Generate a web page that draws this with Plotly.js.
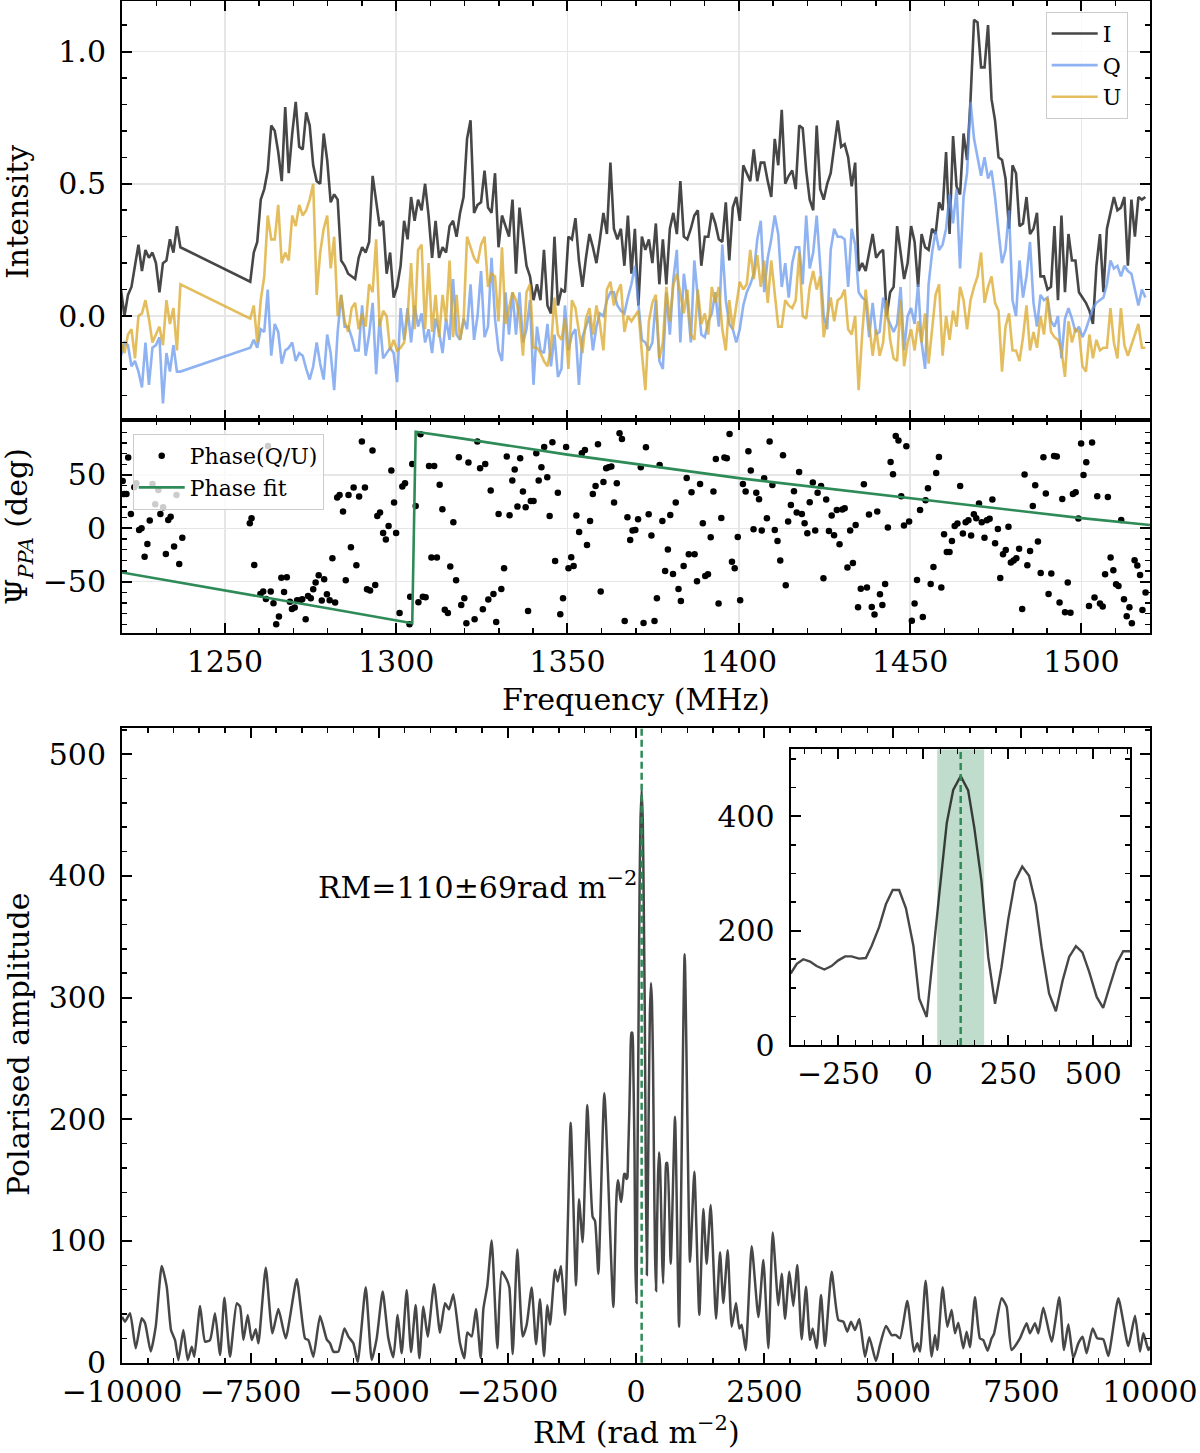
<!DOCTYPE html>
<html>
<head>
<meta charset="utf-8">
<script src="https://cdn.plot.ly/plotly-3.0.1.min.js"></script>
<style>
  body { margin: 0; background: #fff; }
  #plot { width: 1200px; height: 1453px; }
</style>
</head>
<body>
<div id="plot"></div>
<script>
// Frequency channels: two blocks with a gap between them
var chanStartA = 1219.7, chanStartB = 1257.43, chanStep = 1.0204;

// Stokes I, Q, U per channel (block A then block B)
var iSegA = [0.10,0.00,0.08,0.11,0.19,0.27,0.17,0.25,0.22,0.24,0.20,0.09,0.20,0.21,0.29,0.24,0.34,0.26];
var iSegB = [
  0.13,0.24,0.28,0.44,0.48,0.55,0.72,0.70,0.62,0.51,
  0.79,0.54,0.69,0.81,0.64,0.63,0.77,0.72,0.57,0.51,
  0.50,0.69,0.59,0.43,0.46,0.44,0.21,0.19,0.16,0.15,
  0.14,0.22,0.26,0.24,0.28,0.53,0.43,0.34,0.36,0.16,
  0.24,0.07,0.11,0.19,0.36,0.29,0.45,0.36,0.44,0.40,
  0.50,0.38,0.22,0.36,0.22,0.26,0.24,0.34,0.36,0.30,
  0.39,0.45,0.67,0.74,
  0.39,0.42,0.43,0.55,0.41,0.39,0.54,0.26,0.38,0.34,
  0.30,0.44,0.16,0.41,0.29,0.19,0.15,0.06,0.12,0.06,
  0.25,0.04,0.01,0.30,0.04,0.10,0.09,0.30,0.29,0.37,
  0.21,0.11,0.22,0.31,0.26,0.20,0.29,0.39,0.31,0.58,
  0.33,0.29,0.33,0.19,0.38,0.16,0.33,0.04,0.30,0.25,
  0.29,0.20,0.35,0.12,0.29,0.12,0.33,0.39,0.31,0.51,
  0.30,0.29,0.33,0.38,0.40,0.19,0.30,0.30,0.39,0.35,
  0.29,0.28,0.43,0.21,0.41,0.45,0.36,0.57,0.54,0.51,
  0.63,0.51,0.58,0.58,0.51,0.45,0.67,0.57,0.78,0.50,
  0.53,0.55,0.48,0.72,0.71,0.55,0.44,0.40,0.72,0.48,
  0.44,0.50,0.54,0.65,0.74,0.64,0.65,0.60,0.49,0.58,
  0.17,0.20,0.17,0.24,0.31,0.22,0.24,0.25,0.00,0.09,
  0.11,0.34,0.24,0.14,0.20,0.34,0.28,0.11,0.31,0.26,
  0.25,0.33,0.31,0.43,0.40,0.62,0.31,0.68,0.49,0.46,
  0.69,0.59,0.82,1.12,1.11,0.94,0.94,1.10,0.82,0.74,
  0.60,0.59,0.52,0.33,0.57,0.54,0.34,0.35,0.45,0.31,
  0.33,0.39,0.15,0.15,0.10,0.11,0.34,0.06,0.38,0.09,
  0.31,0.21,0.21,0.09,0.07,0.05,0.02,-0.03,0.19,0.31,
  0.09,0.33,0.39,0.45,0.40,0.41,0.45,0.19,0.44,0.30,
  0.45,0.44,0.45
];
var qSegA = [-0.15,-0.10,-0.11,-0.19,-0.17,-0.21,-0.27,-0.10,-0.26,-0.12,-0.11,-0.08,-0.33,-0.14,-0.21,-0.11,-0.21,-0.21];
var qSegB = [
  -0.12,-0.09,-0.12,-0.05,-0.06,0.10,-0.15,-0.03,-0.06,-0.18,
  -0.13,-0.12,-0.10,-0.17,-0.14,-0.15,-0.20,-0.24,-0.19,-0.10,
  -0.18,-0.24,-0.07,-0.14,-0.28,-0.06,0.08,-0.04,-0.04,-0.08,
  -0.13,-0.13,0.04,-0.15,-0.07,0.05,-0.22,-0.01,-0.16,-0.14,
  -0.12,-0.14,-0.25,0.03,-0.09,0.03,-0.10,0.04,-0.04,0.01,
  -0.10,-0.05,-0.14,-0.01,-0.06,-0.14,-0.01,-0.09,0.14,-0.07,
  -0.09,-0.01,-0.05,0.12,
  -0.09,0.00,0.17,-0.08,-0.04,0.22,-0.01,-0.13,-0.17,0.09,
  -0.07,0.09,-0.07,0.09,-0.10,-0.05,0.06,-0.26,-0.04,-0.13,
  -0.14,-0.03,-0.19,-0.07,-0.23,-0.20,0.04,-0.13,-0.07,-0.05,
  -0.26,-0.08,-0.04,0.00,-0.13,-0.04,0.01,0.00,0.06,0.09,
  0.09,0.04,0.02,0.01,0.07,0.12,0.19,0.06,-0.09,-0.10,
  -0.13,-0.10,0.06,-0.17,-0.20,0.09,-0.07,0.14,0.25,-0.10,
  0.16,0.06,-0.10,0.21,0.06,-0.07,-0.08,-0.02,0.01,0.09,
  -0.04,0.27,0.06,-0.03,-0.05,-0.10,-0.05,0.04,0.09,0.12,
  0.16,0.29,0.36,0.09,0.22,0.29,0.38,0.31,0.11,0.20,
  0.07,0.20,0.26,0.26,0.12,0.38,0.18,0.24,0.38,0.19,
  0.00,-0.05,0.25,0.33,0.30,0.30,0.29,0.11,0.33,0.27,
  0.09,0.07,0.06,-0.08,0.05,-0.07,-0.06,0.07,0.00,-0.03,
  -0.06,-0.03,0.11,-0.13,0.00,0.03,-0.03,0.12,-0.10,-0.20,
  0.12,0.24,0.32,0.25,0.27,0.33,0.46,0.35,0.48,0.18,
  0.45,0.54,0.81,0.67,0.60,0.53,0.60,0.52,0.55,0.45,
  0.32,0.20,0.25,0.40,0.06,0.00,0.21,0.07,0.15,0.28,
  0.05,-0.04,0.08,0.06,0.07,-0.02,-0.04,0.00,-0.16,-0.01,
  0.03,-0.01,-0.06,-0.04,-0.08,-0.05,-0.01,0.03,0.05,0.06,
  0.07,0.12,0.21,0.18,0.19,0.15,0.19,0.17,0.16,0.10,
  0.04,0.10,0.07
];
var uSegA = [-0.10,-0.14,-0.07,-0.05,-0.16,0.00,0.01,0.06,-0.01,-0.10,-0.07,-0.04,-0.11,0.06,-0.03,0.03,-0.13,0.12];
var uSegB = [
  -0.01,0.04,-0.10,0.06,0.15,0.38,0.29,0.29,0.42,0.20,
  0.24,0.21,0.38,0.34,0.42,0.38,0.40,0.44,0.50,0.08,
  0.24,0.33,0.38,0.18,0.30,0.00,0.08,-0.02,-0.06,0.03,
  0.05,-0.05,0.01,-0.04,0.12,0.09,0.29,-0.04,0.02,0.00,
  -0.13,-0.09,-0.13,-0.12,-0.10,0.00,0.20,-0.05,0.25,0.27,
  -0.05,0.20,-0.06,0.08,-0.08,0.08,-0.02,0.21,-0.08,0.08,
  -0.09,-0.02,0.30,0.26,
  0.22,0.20,0.27,0.30,0.11,0.16,0.15,-0.02,0.26,-0.03,
  0.03,0.09,0.06,0.00,-0.15,0.09,0.12,-0.12,-0.12,-0.14,
  -0.17,-0.19,-0.12,0.07,-0.07,-0.09,-0.01,-0.20,0.06,0.03,
  -0.06,-0.14,-0.01,0.03,-0.07,0.04,-0.03,-0.13,0.10,0.13,
  0.04,0.09,0.12,-0.06,0.00,-0.02,0.00,0.02,-0.14,-0.28,
  -0.02,0.05,0.08,-0.16,-0.10,0.11,-0.02,0.12,0.16,0.09,
  0.01,0.10,-0.07,-0.09,0.10,-0.03,0.01,-0.07,0.11,0.05,
  0.11,-0.05,-0.13,0.06,-0.05,0.04,0.13,0.10,0.12,0.25,
  0.14,0.23,0.11,0.21,0.05,0.21,0.09,-0.04,-0.04,0.06,
  0.04,0.03,0.06,0.24,0.00,-0.01,0.11,0.17,0.10,0.15,
  -0.08,0.00,0.07,-0.02,0.06,0.07,0.10,-0.05,-0.07,0.00,
  -0.28,-0.07,0.10,-0.03,-0.15,-0.05,-0.15,-0.10,0.06,-0.09,
  -0.16,-0.17,0.06,-0.19,-0.10,-0.05,-0.13,-0.02,-0.10,0.01,
  -0.18,-0.05,0.08,0.12,-0.15,0.00,-0.09,0.02,-0.04,0.11,
  0.06,-0.05,0.06,0.11,0.15,0.24,0.05,0.11,0.15,0.05,
  0.02,-0.21,-0.04,0.01,-0.13,-0.13,-0.17,-0.08,0.04,-0.13,
  -0.06,-0.12,0.00,-0.07,0.07,-0.06,-0.08,-0.09,-0.13,-0.23,
  -0.02,-0.10,-0.05,-0.06,-0.19,-0.21,-0.07,-0.16,-0.09,-0.13,
  -0.12,-0.12,0.03,-0.10,-0.16,0.03,-0.11,-0.15,-0.11,-0.07,
  -0.03,-0.12,-0.12
];

// Polarisation angle per channel (MHz, deg)
var phaseFreq = [
  1220.2,1220.6,1221.3,1221.8,1222.6,1223.6,1224.2,1225.0,1225.7,1226.6,
  1227.4,1228.1,1228.9,1229.7,1230.6,1231.2,1232.0,1232.8,1233.5,1234.2,
  1235.2,1235.9,1236.7,1237.6,1257.3,1257.8,1258.6,1260.4,1261.2,1262.0,
  1262.6,1263.4,1264.2,1265.0,1265.8,1266.5,1267.3,1268.1,1269.0,1269.6,
  1270.4,1271.1,1271.9,1272.6,1273.6,1274.3,1275.1,1275.8,1276.5,1277.4,
  1278.3,1279.0,1279.8,1280.6,1281.4,1282.2,1282.8,1283.5,1284.5,1285.3,
  1286.1,1286.8,1287.6,1288.4,1289.2,1290.0,1290.9,1291.5,1292.4,1293.1,
  1293.9,1294.5,1295.3,1296.2,1297.0,1297.8,1298.6,1299.4,1300.0,1301.0,
  1301.8,1302.6,1303.9,1304.1,1304.7,1305.7,1306.5,1307.1,1307.8,1308.6,
  1309.6,1310.3,1311.1,1311.9,1312.7,1313.5,1314.2,1315.1,1315.8,1316.7,
  1317.5,1318.3,1319.0,1319.9,1320.5,1321.1,1322.9,1323.7,1324.5,1325.3,
  1326.0,1326.9,1327.6,1328.4,1329.2,1329.9,1330.7,1331.5,1332.3,1333.1,
  1333.9,1334.6,1335.4,1336.2,1337.0,1337.8,1338.5,1339.3,1340.1,1340.9,
  1341.6,1342.4,1343.2,1344.1,1344.8,1345.6,1346.4,1347.2,1347.9,1348.7,
  1349.6,1350.3,1351.1,1351.8,1352.6,1353.4,1354.2,1355.1,1355.7,1356.6,
  1357.4,1358.2,1358.9,1359.7,1360.5,1361.3,1362.0,1362.8,1363.6,1364.4,
  1365.2,1365.9,1366.7,1367.5,1368.3,1369.0,1369.8,1370.6,1371.4,1372.2,
  1372.9,1373.7,1374.5,1375.4,1376.1,1376.9,1377.7,1378.5,1379.3,1380.0,
  1380.8,1381.6,1382.4,1383.1,1383.9,1384.8,1385.4,1386.2,1387.1,1387.8,
  1388.7,1389.5,1390.2,1391.0,1391.8,1392.6,1393.3,1394.1,1394.9,1395.8,
  1396.5,1397.3,1398.0,1398.8,1399.7,1400.4,1401.2,1402.0,1402.8,1403.5,
  1404.3,1405.1,1405.9,1406.7,1407.4,1408.2,1409.0,1409.8,1410.5,1411.3,
  1412.1,1412.9,1413.7,1414.4,1415.2,1416.1,1416.9,1417.6,1418.4,1419.2,
  1420.0,1420.7,1421.6,1422.3,1423.0,1424.0,1424.7,1425.5,1426.3,1427.1,
  1427.8,1428.6,1429.4,1430.2,1430.9,1431.7,1432.5,1433.3,1434.1,1434.8,
  1435.6,1436.5,1437.4,1438.0,1438.8,1439.6,1440.4,1441.2,1441.9,1442.7,
  1443.5,1444.3,1445.0,1445.8,1446.6,1447.4,1448.2,1448.9,1449.7,1450.5,
  1451.3,1452.0,1452.9,1453.7,1454.5,1455.2,1456.0,1456.8,1457.6,1458.4,
  1459.1,1459.9,1460.7,1461.5,1462.2,1463.0,1463.8,1464.6,1465.4,1466.2,
  1467.0,1467.8,1468.6,1469.3,1470.1,1470.9,1471.7,1472.4,1473.2,1474.0,
  1474.8,1475.6,1476.3,1477.1,1477.9,1478.7,1479.4,1480.2,1481.0,1481.8,
  1482.7,1483.4,1484.2,1485.0,1485.8,1486.5,1487.3,1488.1,1488.9,1489.6,
  1490.4,1491.2,1492.0,1492.8,1493.6,1494.4,1495.2,1496.0,1496.8,1497.5,
  1498.3,1499.1,1499.9,1500.6,1501.4,1502.2,1503.1,1503.8,1504.6,1505.4,
  1506.2,1506.9,1507.7,1508.5,1509.3,1510.1,1510.8,1511.6,1512.4,1513.2,
  1514.0,1514.7,1515.5,1516.3,1517.1,1517.8,1518.7
];
var phaseDeg = [
  44.4,32.2,32.2,66.3,13.4,38.4,42.2,-1.6,0.0,-26.6,
  -14.7,7.2,41.6,22.5,35.9,13.4,19.7,-24.1,7.8,10.9,
  -17.2,31.3,-33.4,-8.8,4.7,9.4,-34.4,-61.6,-59.4,-66.3,
  77.2,-59.4,-70.3,-90.0,-82.8,-46.3,-59.7,-45.9,-68.8,-75.6,
  -74.4,-67.5,-67.8,-66.6,-85.3,-63.4,-65.6,-57.2,-50.9,-44.1,
  -67.8,-47.8,-61.9,-67.5,-28.1,-69.7,28.8,31.3,15.6,-48.8,
  31.3,-17.8,38.1,-34.7,29.7,81.3,38.1,-57.2,-58.4,72.8,
  -53.1,11.6,14.7,-4.4,-10.6,2.2,54.1,24.1,-4.4,-79.4,
  39.1,42.2,-90.0,-64.1,60.3,20.9,-69.4,88.1,-64.1,-64.7,
  58.4,-27.5,58.4,-27.5,40.9,17.8,-76.3,-79.4,-35.9,5.6,
  -48.8,66.6,-71.9,-65.6,-89.1,61.6,-85.3,81.3,56.3,-75.9,
  60.3,-66.9,35.3,-61.6,-87.8,13.4,-56.9,-37.5,67.2,12.2,
  44.7,55.0,20.3,65.6,34.4,19.7,-77.5,25.6,25.6,70.3,
  44.7,57.2,76.3,47.8,11.6,80.6,-30.6,33.4,-80.6,-65.6,
  76.3,-37.5,-27.2,-35.3,11.9,-3.4,70.3,73.4,-15.6,6.9,
  32.2,39.7,78.8,-59.4,43.4,56.3,57.2,57.8,24.1,42.2,
  89.1,83.8,-86.9,10.3,-10.9,-2.2,-1.6,8.4,57.2,-88.8,
  75.9,13.1,-6.9,-86.9,-65.6,59.4,6.9,-40.0,-20.0,12.5,
  -42.8,24.1,-56.9,-68.1,-35.3,47.2,-24.4,33.8,-24.4,-49.7,
  41.6,4.7,-44.7,-43.1,-8.4,34.4,65.0,-70.6,9.7,66.3,
  65.6,88.4,-31.3,-37.5,-8.1,-67.5,41.6,34.4,72.2,54.1,
  -0.9,33.4,27.2,-2.2,46.9,9.4,81.3,40.6,-1.6,-11.9,
  -30.3,68.4,-53.4,6.3,21.9,34.7,14.7,52.8,13.4,4.7,
  -4.7,24.4,42.8,-2.2,33.4,39.7,-46.9,26.9,-2.5,11.9,
  -6.6,17.2,-15.0,17.5,18.8,-36.9,-2.2,-32.5,3.1,-74.1,
  -56.6,41.3,-55.6,12.8,-73.8,-80.9,15.6,-61.9,-71.9,-52.2,
  0.6,62.2,50.6,86.6,82.2,30.0,2.5,76.9,6.3,-86.6,
  -70.6,-48.4,17.2,-83.1,26.3,37.5,-52.2,-36.3,51.9,66.9,
  -55.6,-5.6,-22.2,-22.2,-11.9,2.2,4.4,39.7,-5.0,5.6,
  7.5,-6.9,13.1,9.4,23.1,5.6,-8.8,7.5,8.8,26.9,
  -14.1,-0.6,-46.6,-24.4,-20.3,1.3,-32.2,-30.3,-28.1,-19.1,
  -75.6,50.3,-34.7,-21.3,20.9,40.3,-12.5,-41.9,66.6,32.5,
  -61.6,-42.5,67.8,67.2,-69.7,27.5,-78.8,-50.9,-79.1,32.2,
  33.8,9.1,79.4,50.0,61.9,-72.8,80.3,-65.0,30.0,-70.6,
  -73.4,-43.1,29.4,-27.5,-39.4,-52.5,-54.1,7.8,-66.6,-82.5,
  -74.1,-89.1,-30.0,-35.0,-43.8,-76.6,-60.3
];

// Fitted PA curve (wraps at +/-90)
var fitFreq = [1220, 1250, 1280, 1304.7, 1305.7, 1318.5, 1350, 1400, 1450, 1500, 1520];
var fitDeg  = [-41.5, -58, -75, -89, 90.5, 84.5, 69, 47, 28, 9.5, 3];

// RM synthesis: polarised amplitude vs RM (rad m^-2)
var rmLeft = [-10000,-9941,-9844,-9734,-9617,-9552,-9442,-9345,-9228,-9131,
  -9047,-8969,-8904,-8807,-8722,-8644,-8593,-8482,-8385,-8288,
  -8191,-8093,-8009,-7899,-7769,-7704,-7639,-7555,-7477,-7399,
  -7347,-7204,-7075,-6958,-6815,-6601,-6440,-6375,-6277,-6148,
  -6018,-5953,-5888,-5791,-5674,-5596,-5499,-5415,-5259,-5142,
  -5045,-4929,-4819,-4721,-4637,-4559,-4462,-4377,-4287,-4215,
  -4137,-4053,-3930,-3813,-3716,-3638,-3554,-3424,-3340,-3282,
  -3197,-3113,-3022,-2970,-2892,-2808,-2698,-2613,-2516,-2464,
  -2399,-2309,-2205,-2127,-2030,-1945,-1868,-1790,-1725,-1673,
  -1576,-1524,-1459,-1381,-1271,-1167,-1109,-1037,-947,-843,
  -798,-733,-616,-441];
var ampLeft = [37.8,33.7,40.6,11.8,36.5,32.4,9.1,29.6,79.5,62.5,
  26.9,18.6,2.2,26.9,2.2,13.1,4.9,46.6,17.3,18.6,
  40.6,6.3,53.4,4.9,48.8,46.1,18.6,39.2,18.6,27.4,
  15.9,78.1,24.1,44.1,20.0,68.5,20.0,18.6,4.9,38.4,
  19.2,15.9,9.1,9.1,28.2,21.4,15.9,0.5,61.9,2.2,
  20.0,58.4,20.0,4.4,39.2,7.7,59.7,8.8,47.4,3.6,
  46.1,21.4,64.4,24.7,48.8,43.9,56.2,15.9,3.6,24.8,
  21.5,44.1,3.9,44.1,63.4,100.5,11.9,74.7,68.3,61.8,
  7.1,93.1,21.5,31.2,61.8,15.1,52.2,5.4,47.3,31.2,
  76.3,66.6,79.5,39.3,197.2,63.4,134.3,98.9,211.7,119.8,
  116.6,73.1,221.4,45.7];
var rmCore = [-390,-372,-353,-333,-314,-291,-270,-250,-230,-211,
  -189,-169,-152,-130,-110,-90,-71,-51,-29,-12,
  10,27,47,69,88,110,132,150,171,191,
  211,230,250,270,291,311,331,348,370,390,
  410,429,449,468,488,510,529,549,570,588,608];
var ampCore = [125,142,150,146,138,132,138,148,155,155,
  151,152,173,206,246,271,271,239,173,81,
  49,154,264,388,446,470,445,380,287,154,
  72,136,220,287,312,296,246,171,90,59,
  113,154,173,162,128,84,65,104,144,164,164];
var rmRight = [675,759,837,947,1051,1135,1232,1310,1375,1453,
  1557,1635,1699,1784,1862,1946,2011,2056,2134,2251,
  2381,2478,2576,2660,2770,2835,2900,2984,3061,3139,
  3223,3308,3386,3438,3515,3600,3677,3807,3937,4034,
  4112,4183,4261,4345,4455,4539,4669,4747,4864,4974,
  5058,5136,5279,5408,5473,5525,5635,5752,5817,5862,
  5966,6057,6141,6206,6271,6368,6433,6498,6595,6692,
  6757,6842,6919,6965,7114,7211,7308,7470,7600,7665,
  7763,7828,7925,8087,8236,8327,8412,8509,8606,8690,
  8768,8885,8976,9093,9190,9385,9579,9709,9807,9872,
  9969,10000];
var ampRight = [81.2,202.0,29.6,335.7,82.7,156.9,39.3,126.3,81.2,129.5,
  36.1,90.8,49.0,92.4,29.6,49.0,28.0,31.2,10.3,95.6,
  37.6,84.4,11.9,107.0,47.3,73.1,36.1,74.7,46.6,80.3,
  19.2,62.5,18.6,28.2,11.8,55.6,13.7,74.8,35.1,33.7,
  25.5,33.7,26.9,35.9,4.9,20.9,1.4,14.5,30.1,22.7,
  22.7,20.0,50.7,9.1,15.9,9.1,67.4,4.9,22.7,10.4,
  61.9,29.6,43.3,24.1,32.9,11.8,25.5,12.7,53.7,20.0,
  18.6,9.9,20.0,23.6,52.9,46.1,10.4,20.0,32.4,24.1,
  32.4,24.1,45.2,17.3,53.7,10.4,31.5,3.6,15.9,21.4,
  7.7,28.2,20.0,19.2,5.5,52.9,13.7,38.6,9.1,24.1,
  10.4,13.1];

var rmBest = 110, rmErr = 69;

// tick labels of the RM axis
var rmTicks = [-10000, -7500, -5000, -2500, 0, 2500, 5000, 7500, 10000];
var rmTickText = ["\u221210000", "\u22127500", "\u22125000", "\u22122500", "0", "2500", "5000", "7500", "10000"];

// build series
function chan(start, n) {
  var out = [];
  for (var k = 0; k < n; k++) out.push(start + k * chanStep);
  return out;
}
var freq = chan(chanStartA, iSegA.length).concat(chan(chanStartB, iSegB.length));
var rmAll = rmLeft.concat(rmCore, rmRight);
var ampAll = ampLeft.concat(ampCore, ampRight);

var green = "#2e8b57";
var font = "DejaVu Serif, Liberation Serif, serif";
var insetTop = 517;

var traces = [
  { x: freq, y: iSegA.concat(iSegB), xaxis: "x", yaxis: "y", mode: "lines", name: "I",
    line: { color: "rgba(0,0,0,0.72)", width: 2.6 }, legend: "legend" },
  { x: freq, y: qSegA.concat(qSegB), xaxis: "x", yaxis: "y", mode: "lines", name: "Q",
    line: { color: "rgba(100,149,237,0.72)", width: 2.6 }, legend: "legend" },
  { x: freq, y: uSegA.concat(uSegB), xaxis: "x", yaxis: "y", mode: "lines", name: "U",
    line: { color: "rgba(218,165,32,0.72)", width: 2.6 }, legend: "legend" },
  { x: phaseFreq, y: phaseDeg, xaxis: "x2", yaxis: "y2", mode: "markers", name: "Phase(Q/U)",
    marker: { color: "black", size: 6.5 }, legend: "legend2" },
  { x: fitFreq, y: fitDeg, xaxis: "x2", yaxis: "y2", mode: "lines", name: "Phase fit",
    line: { color: green, width: 2.6 }, legend: "legend2" },
  { x: rmAll, y: ampAll, xaxis: "x3", yaxis: "y3", mode: "lines", showlegend: false,
    line: { color: "rgba(0,0,0,0.72)", width: 2.5, shape: "spline", smoothing: 0.5 } },
  // 1-sigma band round the best RM, inset
  { x: [rmBest - rmErr, rmBest + rmErr, rmBest + rmErr, rmBest - rmErr],
    y: [0, 0, insetTop, insetTop], xaxis: "x4", yaxis: "y4", mode: "lines", fill: "toself",
    fillcolor: "rgba(46,139,87,0.3)", line: { width: 0 }, showlegend: false, hoverinfo: "skip" },
  { x: rmCore, y: ampCore, xaxis: "x4", yaxis: "y4", mode: "lines", showlegend: false,
    line: { color: "rgba(0,0,0,0.72)", width: 2.4 } }
];

// shared axis look: black frame, inward ticks on all sides
function ax(extra) {
  var a = {
    showline: true, linecolor: "black", linewidth: 2, mirror: "allticks",
    ticks: "inside", ticklen: 10, tickwidth: 2, tickcolor: "black",
    zeroline: false, showgrid: false, gridcolor: "#e6e6e6", gridwidth: 1.5,
    tickfont: { family: font, size: 30, color: "black" },
    ticklabelstandoff: 8, tickmode: "linear"
  };
  for (var k in extra) a[k] = extra[k];
  return a;
}
function minor(step) {
  return { tickmode: "linear", tick0: 0, dtick: step, ticks: "inside", ticklen: 5,
    tickwidth: 1.5, tickcolor: "black", showgrid: false };
}

var xMain = [122 / 1200, 1150 / 1200];
function yDom(top, bottom) { return [1 - bottom / 1453, 1 - top / 1453]; }
function label(text, px, py, angle) {
  return { text: text, xref: "paper", yref: "paper", x: px / 1200, y: 1 - py / 1453,
    xanchor: "center", yanchor: "middle", textangle: angle || 0, showarrow: false,
    font: { family: font, size: 30, color: "black" } };
}

var layout = {
  width: 1200, height: 1453,
  margin: { l: 0, r: 0, t: 0, b: 0 },
  paper_bgcolor: "white", plot_bgcolor: "white",
  font: { family: font, size: 30, color: "black" },
  showlegend: true,
  xaxis: ax({ domain: xMain, anchor: "y", range: [1220, 1520], tick0: 1250, dtick: 50,
    showticklabels: false, showgrid: true, minor: minor(10) }),
  yaxis: ax({ domain: yDom(1, 420), anchor: "x", range: [-0.393, 1.191], tick0: 0, dtick: 0.5,
    tickformat: ".1f", showgrid: true, minor: minor(0.1) }),
  xaxis2: ax({ domain: xMain, anchor: "y2", range: [1220, 1520], tick0: 1250, dtick: 50,
    showgrid: true, ticklabelstandoff: 1, minor: minor(10) }),
  yaxis2: ax({ domain: yDom(420, 633), anchor: "x2", range: [-98.2, 101.5],
    tickmode: "array", tickvals: [-50, 0, 50], showgrid: true, minor: minor(10) }),
  xaxis3: ax({ domain: xMain, anchor: "y3", range: [-10001, 10001],
    tickmode: "array", tickvals: rmTicks, ticktext: rmTickText, ticklabelstandoff: 1,
    minor: minor(500) }),
  yaxis3: ax({ domain: yDom(728, 1362.7), anchor: "x3", range: [0, 521.5], tick0: 0, dtick: 100,
    minor: minor(20) }),
  xaxis4: ax({ domain: [790.7 / 1200, 1130 / 1200], anchor: "y4", range: [-390, 608], tick0: 0, dtick: 250,
    ticklabelstandoff: 1, minor: minor(50) }),
  yaxis4: ax({ domain: yDom(749.3, 1045), anchor: "x4", range: [0, insetTop], tick0: 0, dtick: 200,
    minor: minor(50) }),
  legend: {
    x: 1045.7 / 1200, y: 1 - 11.7 / 1453, xanchor: "left", yanchor: "top",
    bgcolor: "rgba(255,255,255,0.8)", bordercolor: "#cccccc", borderwidth: 1,
    itemwidth: 46, font: { family: font, size: 22, color: "black" }
  },
  legend2: {
    x: 132.7 / 1200, y: 1 - 434 / 1453, xanchor: "left", yanchor: "top",
    bgcolor: "rgba(255,255,255,0.8)", bordercolor: "#cccccc", borderwidth: 1,
    itemwidth: 46, font: { family: font, size: 22, color: "black" }
  },
  shapes: [
    { type: "line", xref: "x4", yref: "y4 domain", x0: rmBest, x1: rmBest, y0: 0, y1: 1,
      line: { color: green, width: 2.5, dash: "7px,4px" } },
    { type: "line", xref: "x3", yref: "y3 domain", x0: rmBest, x1: rmBest, y0: 0, y1: 1,
      line: { color: green, width: 2.5, dash: "7px,4px" } }
  ],
  annotations: [
    { text: "RM=110±69rad m<sup>−2</sup>", xref: "x3", yref: "y3", x: 60, y: 392,
      xanchor: "right", yanchor: "middle", showarrow: false,
      font: { family: font, size: 30, color: "black" } },
    label("Intensity", 18, 212, -90),
    label("Ψ<sub><i>PPA</i></sub> (deg)", 18, 527, -90),
    label("Frequency (MHz)", 636, 700),
    label("Polarised amplitude", 18, 1045, -90),
    label("RM (rad m<sup>−2</sup>)", 636, 1430)
  ]
};

Plotly.newPlot("plot", traces, layout, { staticPlot: true, displayModeBar: false });
</script>
</body>
</html>
